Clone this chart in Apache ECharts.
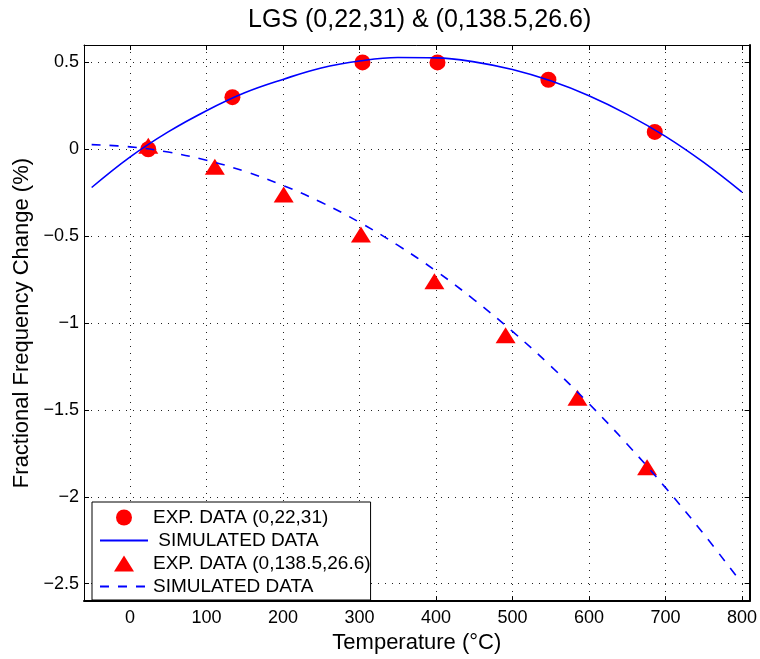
<!DOCTYPE html>
<html><head><meta charset="utf-8">
<script src="https://cdn.jsdelivr.net/npm/echarts@6/dist/echarts.min.js"></script>
<style>html,body{margin:0;padding:0;background:#fff}#c{width:760px;height:659px}</style>
</head><body><div id="c"></div>
<script>
const titleText = 'LGS (0,22,31) & (0,138.5,26.6)';
const xName = 'Temperature (°C)';
const yName = 'Fractional Frequency Change (%)';
const xTicks = [0, 100, 200, 300, 400, 500, 600, 700, 800];
const yTicks = [-2.5, -2, -1.5, -1, -0.5, 0, 0.5];

const nameExpA = 'EXP. DATA (0,22,31)';
const nameSimA = ' SIMULATED DATA';
const nameExpB = 'EXP. DATA (0,138.5,26.6)';
const nameSimB = 'SIMULATED DATA';

const expTempA = [24, 134, 304, 402, 547, 686];
const expValA  = [0.0, 0.30, 0.50, 0.50, 0.40, 0.10];

const expTempB = [24, 111, 201, 302, 398, 491, 585, 676];
const expValB  = [0.02, -0.10, -0.26, -0.49, -0.76, -1.07, -1.43, -1.83];

const simTempA = [-50, 0, 50, 100, 150, 200, 250, 300, 350, 400, 450, 500, 550, 600, 650, 700, 750, 800];
const simValA  = [-0.22, -0.045, 0.10, 0.222, 0.325, 0.402, 0.468, 0.508, 0.528, 0.526, 0.503, 0.459, 0.394, 0.308, 0.201, 0.074, -0.076, -0.247];

const simTempB = [-50, 0, 50, 100, 150, 200, 250, 300, 350, 400, 450, 500, 550, 600, 650, 700, 750, 795];
const simValB  = [0.027, 0.014, -0.016, -0.063, -0.127, -0.208, -0.305, -0.42, -0.552, -0.70, -0.866, -1.048, -1.247, -1.464, -1.697, -1.947, -2.214, -2.47];

const pairs = (xs, ys) => xs.map((x, i) => [x, ys[i]]);
const FONT = 'Liberation Sans';
const TRI_ICON = 'path://M10,0L20,16L0,16Z';

const chart = echarts.init(document.getElementById('c'), null, {renderer: 'canvas'});
const fmtY = v => String(v).replace('-', '\u2212');

const baseX = {type: 'value', min: -60, max: 810, gridIndex: 0};
const baseY = {type: 'value', min: -2.6, max: 0.6, gridIndex: 0};

chart.setOption({
  animation: false,
  backgroundColor: '#fff',
  textStyle: {fontFamily: FONT, color: '#000'},
  title: {
    text: titleText, left: 248, top: 8, padding: 0,
    textStyle: {fontFamily: FONT, fontSize: 25, fontWeight: 'normal', color: '#000'}
  },
  grid: {left: 84, right: 8, top: 45, bottom: 52, containLabel: false},
  legend: {
    orient: 'vertical', left: 92, top: 502,
    padding: [6, 0, 4, 7], itemGap: 4, itemWidth: 48, itemHeight: 16,
    backgroundColor: '#fff', borderColor: '#000', borderWidth: 1, borderRadius: 0,
    selectedMode: false, z: 10, symbolKeepAspect: true,
    textStyle: {fontFamily: FONT, fontSize: 19, color: '#000'},
    data: [
      {name: nameExpA, icon: 'circle', itemStyle: {opacity: 1}},
      {name: nameSimA, itemStyle: {opacity: 0}},
      {name: nameExpB, icon: TRI_ICON, itemStyle: {opacity: 1}},
      {name: nameSimB, itemStyle: {opacity: 0}}
    ]
  },
  xAxis: [
    Object.assign({}, baseX, {
      position: 'bottom',
      name: xName, nameLocation: 'middle', nameGap: 28,
      nameTextStyle: {fontFamily: FONT, fontSize: 22, color: '#000'},
      axisLine: {show: true, onZero: false, lineStyle: {color: '#000', width: 2}},
      axisTick: {show: true, inside: true, length: 5, customValues: xTicks, lineStyle: {color: '#000', width: 1}},
      axisLabel: {show: true, margin: 8, customValues: xTicks, fontFamily: FONT, fontSize: 18, color: '#000', formatter: fmtY},
      splitLine: {show: true, lineStyle: {color: '#222', width: 1, type: [1, 6]}}
    }),
    Object.assign({}, baseX, {
      position: 'top',
      axisLine: {show: true, onZero: false, lineStyle: {color: '#000', width: 1}},
      axisTick: {show: true, inside: true, length: 5, customValues: xTicks, lineStyle: {color: '#000', width: 1}},
      axisLabel: {show: false},
      splitLine: {show: false}
    })
  ],
  yAxis: [
    Object.assign({}, baseY, {
      position: 'left',
      name: yName, nameLocation: 'middle', nameGap: 50, nameRotate: 90,
      nameTextStyle: {fontFamily: FONT, fontSize: 22, color: '#000'},
      axisLine: {show: true, onZero: false, lineStyle: {color: '#000', width: 1}},
      axisTick: {show: true, inside: true, length: 5, customValues: yTicks, lineStyle: {color: '#000', width: 1}},
      axisLabel: {show: true, margin: 5, customValues: yTicks, fontFamily: FONT, fontSize: 18, color: '#000', formatter: fmtY},
      splitLine: {show: true, lineStyle: {color: '#222', width: 1, type: [1, 6]}}
    }),
    Object.assign({}, baseY, {
      position: 'right',
      axisLine: {show: true, onZero: false, lineStyle: {color: '#000', width: 2}},
      axisTick: {show: true, inside: true, length: 5, customValues: yTicks, lineStyle: {color: '#000', width: 1}},
      axisLabel: {show: false},
      splitLine: {show: false}
    })
  ],
  series: [
    {
      name: nameExpA, type: 'scatter', xAxisIndex: 0, yAxisIndex: 0, z: 2,
      symbol: 'circle', symbolSize: 16,
      itemStyle: {color: '#ff0000', opacity: 1},
      data: pairs(expTempA, expValA)
    },
    {
      name: nameSimA, type: 'line', xAxisIndex: 0, yAxisIndex: 0, z: 3,
      symbol: 'none', showSymbol: false, smooth: 0.4,
      lineStyle: {color: '#0000ff', width: 1.6},
      itemStyle: {color: '#0000ff'},
      data: pairs(simTempA, simValA)
    },
    {
      name: nameExpB, type: 'scatter', xAxisIndex: 0, yAxisIndex: 0, z: 2,
      symbol: 'triangle', symbolSize: [20, 16],
      itemStyle: {color: '#ff0000', opacity: 1},
      data: pairs(expTempB, expValB)
    },
    {
      name: nameSimB, type: 'line', xAxisIndex: 0, yAxisIndex: 0, z: 3,
      symbol: 'none', showSymbol: false, smooth: 0.4,
      lineStyle: {color: '#0000ff', width: 1.6, type: [9, 9]},
      itemStyle: {color: '#0000ff'},
      data: pairs(simTempB, simValB)
    }
  ]
});
</script>
</body></html>
